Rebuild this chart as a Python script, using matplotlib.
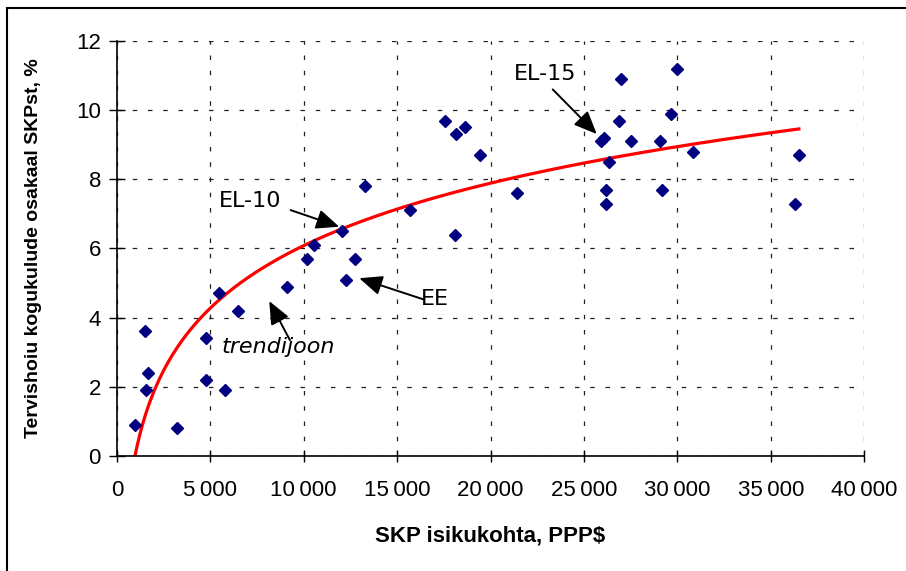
import numpy as np
import matplotlib
matplotlib.use("Agg")
import matplotlib.pyplot as plt
from matplotlib import font_manager
from matplotlib.patches import Rectangle

# SKP isikukohta (PPP$) ja tervishoiu kogukulude osakaal SKPst (%)
gdp = [950, 1500, 1650, 1550, 3200, 4750, 4750, 5450, 5800, 6500,
       9100, 10200, 10550, 12250, 12750, 12050, 13300, 15700, 17550, 18150,
       18650, 19450, 18100, 21400, 25900, 26050, 26350, 26150, 26150, 26850,
       27000, 27500, 29050, 29150, 29650, 29950, 30850, 36300, 36500]
health = [0.9, 3.6, 2.4, 1.9, 0.8, 3.4, 2.2, 4.7, 1.9, 4.2,
          4.9, 5.7, 6.1, 5.1, 5.7, 6.5, 7.8, 7.1, 9.7, 9.3,
          9.5, 8.7, 6.4, 7.6, 9.1, 9.2, 8.5, 7.7, 7.3, 9.7,
          10.9, 9.1, 9.1, 7.7, 9.9, 11.2, 8.8, 7.3, 8.7]

x_ticks = [0, 5000, 10000, 15000, 20000, 25000, 30000, 35000, 40000]
x_tick_labels = ["0", "5\u2009000", "10\u2009000", "15\u2009000", "20\u2009000",
                 "25\u2009000", "30\u2009000", "35\u2009000", "40\u2009000"]
y_ticks = [0, 2, 4, 6, 8, 10, 12]

# kitsas font, kui on olemas
names = {f.name for f in font_manager.fontManager.ttflist}
tick_font, tick_size = "Liberation Sans", 16
for cand in ["Liberation Sans Narrow", "DejaVu Sans Condensed"]:
    if cand in names:
        tick_font, tick_size = cand, 18
        break

# logaritmiline trendijoon (nagu Excelis)
gdp_arr = np.array(gdp, dtype=float)
a, b = np.polyfit(np.log(gdp_arr), np.array(health), 1)
xs = np.linspace(gdp_arr.min(), gdp_arr.max(), 300)
trend = a * np.log(xs) + b

fig = plt.figure(figsize=(9.06, 5.71), dpi=100)
ax = fig.add_axes([0.129, 0.2014, 0.825, 0.7268])

ax.plot(xs, trend, color="#ff0000", lw=2.3, zorder=2)
ax.plot(gdp, health, linestyle="none", marker="D", markersize=6.6,
        color="#000080", zorder=3)

ax.set_xlim(0, 40000)
ax.set_ylim(0, 12)
ax.set_xticks(x_ticks)
ax.set_xticklabels(x_tick_labels)
ax.set_yticks(y_ticks)

for lab in ax.get_xticklabels() + ax.get_yticklabels():
    lab.set_fontfamily(tick_font)
    lab.set_fontsize(tick_size)

ax.tick_params(axis="x", direction="inout", length=9, width=1, pad=13)
ax.tick_params(axis="y", direction="inout", length=11, width=1, pad=6)

ax.grid(True, color="#222222", lw=0.9, linestyle=(0, (3.6, 8.6)))
ax.set_axisbelow(True)
for side in ["top", "right"]:
    ax.spines[side].set_visible(False)
for side in ["left", "bottom"]:
    ax.spines[side].set_linewidth(1.2)

ax.set_xlabel("SKP isikukohta, PPP$", fontfamily="Liberation Sans",
              fontweight="bold", fontsize=16, va="center")
ax.xaxis.set_label_coords(0.5, -0.193)
ax.set_ylabel("Tervishoiu kogukulude osakaal SKPst, %",
              fontfamily="Liberation Sans", fontweight="bold",
              fontsize=14, va="center")
ax.yaxis.set_label_coords(-0.112, 0.5)

# nooled ja sildid
arrow = dict(arrowstyle="-|>,head_length=0.7,head_width=0.3",
             mutation_scale=20, lw=1.4, color="black", shrinkA=0, shrinkB=0)
ax.annotate("", xy=(25680, 9.31), xytext=(23324, 10.60), arrowprops=arrow)
ax.text(22912, 11.06, "EL-15", fontsize=16, ha="center", va="center")
ax.annotate("", xy=(11900, 6.63), xytext=(9299, 7.11), arrowprops=arrow)
ax.text(7157, 7.38, "EL-10", fontsize=16, ha="center", va="center")
ax.annotate("", xy=(12971, 5.14), xytext=(16397, 4.53), arrowprops=arrow)
ax.text(17024, 4.53, "EE", fontsize=16, ha="center", va="center")
ax.annotate("", xy=(8153, 4.48), xytext=(9261, 3.35), arrowprops=arrow)
ax.text(8635, 3.14, "trendijoon", fontsize=16, style="italic",
        ha="center", va="center")

# raam ümber joonise
fig.patches.append(Rectangle((0.0077, -0.2), 1.5, 1.186, transform=fig.transFigure,
                             fill=False, edgecolor="black", lw=1.5))

fig.savefig("out.png", dpi=100)
